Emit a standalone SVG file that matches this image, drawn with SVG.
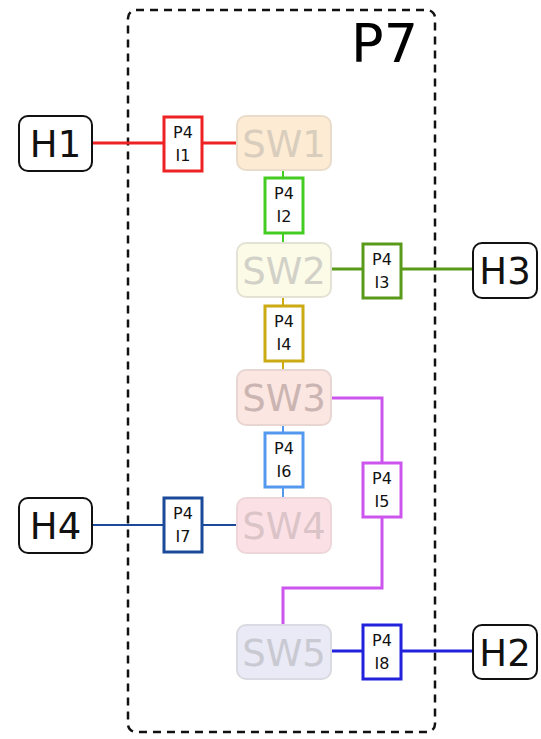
<svg xmlns="http://www.w3.org/2000/svg" width="541" height="739" viewBox="0 0 541 739">
  <style>
    .host rect { fill: #ffffff; stroke: #111111; stroke-width: 2; }
    .host text { font-family: "DejaVu Sans", sans-serif; font-size: 37px; fill: #111111; text-anchor: middle; }
    .sw rect { stroke-width: 2; }
    .sw text { font-family: "DejaVu Sans", sans-serif; font-size: 37px; text-anchor: middle; }
    .port rect { fill: #ffffff; stroke-width: 3; }
    .port text { font-family: "DejaVu Sans", sans-serif; font-size: 16px; fill: #111111; text-anchor: middle; }
    .link { fill: none; stroke-width: 3; }
    .stub { fill: none; stroke-width: 2; }
  </style>

  <!-- domain boundary -->
  <g id="P7">
    <rect x="128" y="10" width="307" height="722" rx="8" fill="none" stroke="#111111" stroke-width="2.5" stroke-dasharray="8,6"/>
    <text x="418" y="62" font-family="DejaVu Sans, sans-serif" font-size="54" fill="#000000" text-anchor="end">P7</text>
  </g>

  <!-- connectors -->
  <g id="links">
    <path class="link" d="M92,143 H237" stroke="#ee2222"/>
    <path class="stub" d="M283,170 V243" stroke="#44cc22"/>
    <path class="link" d="M331,269 H473" stroke="#5a9a1a"/>
    <path class="stub" d="M283,297 V370" stroke="#ccaa11"/>
    <path class="stub" d="M283,425 V497" stroke="#5599ee"/>
    <path class="link" d="M331,398 H382 V588 H283 V625" stroke="#cc55ee"/>
    <path class="stub" d="M92,525 H237" stroke="#1a4a99" stroke-width="2.5"/>
    <path class="link" d="M331,651 H473" stroke="#2222dd"/>
  </g>

  <!-- hosts -->
  <g id="H1" class="host"><rect x="19" y="116" width="73" height="55" rx="9"/><text x="55.5" y="157">H1</text></g>
  <g id="H3" class="host"><rect x="473" y="243" width="64" height="55" rx="9"/><text x="505" y="284">H3</text></g>
  <g id="H4" class="host"><rect x="19" y="498" width="73" height="55" rx="9"/><text x="55.5" y="539">H4</text></g>
  <g id="H2" class="host"><rect x="473" y="625" width="64" height="54" rx="9"/><text x="505" y="666">H2</text></g>

  <!-- switches -->
  <g id="SW1" class="sw"><rect x="237" y="116" width="94" height="54" rx="9" fill="#fdebd3" stroke="#eadccb"/><text x="284" y="157" fill="#d9cdbd">SW1</text></g>
  <g id="SW2" class="sw"><rect x="237" y="243" width="94" height="54" rx="9" fill="#fcfbe8" stroke="#e4e2d4"/><text x="284" y="284" fill="#d2d1c8">SW2</text></g>
  <g id="SW3" class="sw"><rect x="237" y="370" width="94" height="55" rx="9" fill="#fbe6e1" stroke="#e8d6d2"/><text x="284" y="411" fill="#cbb5b2">SW3</text></g>
  <g id="SW4" class="sw"><rect x="237" y="498" width="94" height="55" rx="9" fill="#fbe1e5" stroke="#ecd6da"/><text x="284" y="539" fill="#dbc4c8">SW4</text></g>
  <g id="SW5" class="sw"><rect x="237" y="625" width="94" height="54" rx="9" fill="#eaeaf6" stroke="#dadae2"/><text x="284" y="666" fill="#c9c9d2">SW5</text></g>

  <!-- port labels -->
  <g id="I1" class="port"><rect x="164" y="117" width="38" height="54" stroke="#ee2222"/><text x="183" y="138">P4</text><text x="183" y="161">I1</text></g>
  <g id="I2" class="port"><rect x="265" y="178" width="38" height="55" stroke="#44cc22"/><text x="284" y="199">P4</text><text x="284" y="222">I2</text></g>
  <g id="I3" class="port"><rect x="363" y="244" width="38" height="54" stroke="#5a9a1a"/><text x="382" y="265">P4</text><text x="382" y="288">I3</text></g>
  <g id="I4" class="port"><rect x="265" y="306" width="38" height="55" stroke="#ccaa11"/><text x="284" y="327">P4</text><text x="284" y="350">I4</text></g>
  <g id="I6" class="port"><rect x="265" y="433" width="38" height="54" stroke="#5599ee"/><text x="284" y="454">P4</text><text x="284" y="477">I6</text></g>
  <g id="I5" class="port"><rect x="363" y="463" width="38" height="54" stroke="#cc55ee"/><text x="382" y="484">P4</text><text x="382" y="507">I5</text></g>
  <g id="I7" class="port"><rect x="164" y="498" width="38" height="54" stroke="#1a4a99"/><text x="183" y="519">P4</text><text x="183" y="542">I7</text></g>
  <g id="I8" class="port"><rect x="363" y="625" width="38" height="54" stroke="#2222dd"/><text x="382" y="646">P4</text><text x="382" y="669">I8</text></g>
</svg>
